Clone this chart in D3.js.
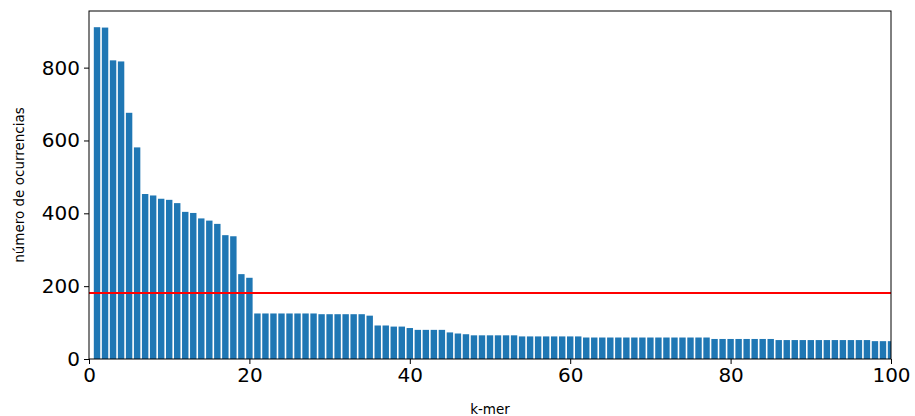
<!DOCTYPE html>
<html>
<script src='https://d3js.org/d3.v7.min.js'></script>
<style>
 body {margin: 0; background: white;}
 text {font-family: 'DejaVu Sans', sans-serif; fill: black;}
 .axis path, .axis line {stroke: black;}
</style>
<body onload='init()'>
<svg width=915 height=416></svg>
<script>
var kmers = d3.range(1, 101);
var counts = [911, 910, 820, 817, 676, 581, 453, 449, 440, 437,
  428, 404, 401, 386, 380, 371, 340, 337, 233, 223,
  125, 125, 125, 125, 125, 125, 125, 125, 123, 123,
  123, 123, 123, 123, 119, 92, 92, 89, 89, 85,
  80, 80, 80, 80, 73, 70, 68, 65, 65, 65,
  65, 65, 65, 62, 62, 62, 62, 62, 62, 62,
  62, 59, 59, 59, 59, 59, 59, 59, 59, 59,
  59, 59, 59, 59, 59, 59, 59, 55, 55, 55,
  55, 55, 55, 55, 55, 52, 52, 52, 52, 52,
  52, 52, 52, 52, 52, 52, 52, 49, 49, 49];
var threshold = 181;
var xTicks = [0, 20, 40, 60, 80, 100];
var yTicks = [0, 200, 400, 600, 800];

function init() {
  var left = 89, top = 11, w = 802, h = 348;
  var xs = d3.scaleLinear().domain([0, 100]).range([0, w]);
  var ys = d3.scaleLinear().domain([0, 955.5]).range([h, 0]);
  var svg = d3.select('svg');

  svg.append('clipPath').attr('id', 'plot')
    .append('rect').attr('width', w).attr('height', h);

  var g = svg.append('g').attr('transform', 'translate(' + left + ',' + top + ')');

  g.append('g').attr('clip-path', 'url(#plot)')
    .selectAll('rect')
      .data(counts)
      .enter()
      .append('rect')
        .attr('x', function(d, i){return xs(kmers[i] - 0.4);})
        .attr('width', xs(0.8) - xs(0))
        .attr('y', function(d){return ys(d);})
        .attr('height', function(d){return ys(0) - ys(d);})
        .attr('fill', '#1f77b4');

  g.append('line')
    .attr('x1', 0).attr('x2', w)
    .attr('y1', ys(threshold)).attr('y2', ys(threshold))
    .attr('stroke', '#ff0000').attr('stroke-width', 2);

  g.append('rect').attr('width', w).attr('height', h)
    .attr('fill', 'none').attr('stroke', 'black').attr('stroke-width', 1);

  g.append('g').attr('class', 'axis')
    .attr('transform', 'translate(0,' + h + ')')
    .call(d3.axisBottom(xs).tickValues(xTicks).tickSize(5).tickPadding(4).tickSizeOuter(0))
    .call(function(a){a.select('.domain').remove();})
    .selectAll('text').style('font-size', '20px');

  g.append('g').attr('class', 'axis')
    .call(d3.axisLeft(ys).tickValues(yTicks).tickSize(5).tickPadding(4).tickSizeOuter(0))
    .call(function(a){a.select('.domain').remove();})
    .selectAll('text').style('font-size', '20px');

  svg.append('text')
    .attr('transform', 'translate(24,' + (top + h / 2) + ') rotate(-90)')
    .attr('text-anchor', 'middle')
    .style('font-size', '13.5px')
    .text('número de ocurrencias');

  svg.append('text')
    .attr('x', left + w / 2).attr('y', 414)
    .attr('text-anchor', 'middle')
    .style('font-size', '13.5px')
    .text('k-mer');
}
</script>
</body>
</html>
